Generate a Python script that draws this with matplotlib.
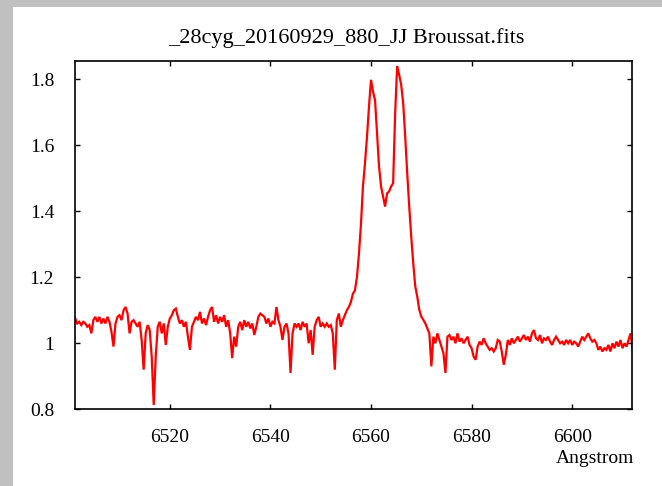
import numpy as np
import matplotlib
matplotlib.use("Agg")
import matplotlib.pyplot as plt
from matplotlib.patches import Rectangle

title = "_28cyg_20160929_880_JJ Broussat.fits"
xlabel = "Angstrom"

# wavelength grid (Angstrom), sampled every 0.4 A
wl_start, wl_step = 6501.2, 0.4

flux_6501_6511 = [1.075, 1.06, 1.065, 1.055, 1.065, 1.06, 1.05, 1.055, 1.03, 1.07,
                  1.08, 1.065, 1.08, 1.06, 1.075, 1.06, 1.08, 1.065, 1.035, 0.99,
                  1.06, 1.08, 1.085, 1.07, 1.10]
flux_6511_6521 = [1.11, 1.09, 1.03, 1.065, 1.07, 1.06, 1.05, 1.065, 1.01, 0.92,
                  1.03, 1.055, 1.04, 0.96, 0.813, 0.96, 1.05, 1.065, 1.03, 1.06,
                  0.995, 1.05, 1.075, 1.085, 1.10]
flux_6521_6531 = [1.105, 1.08, 1.06, 1.07, 1.05, 1.065, 1.02, 0.98, 1.05, 1.065,
                  1.08, 1.07, 1.095, 1.06, 1.075, 1.055, 1.08, 1.10, 1.11, 1.065,
                  1.085, 1.06, 1.08, 1.065, 1.085]
flux_6531_6541 = [1.05, 1.07, 1.03, 0.955, 1.02, 0.99, 1.05, 1.065, 1.04, 1.07,
                  1.05, 1.065, 1.045, 1.06, 1.025, 1.05, 1.08, 1.09, 1.085, 1.08,
                  1.06, 1.075, 1.05, 1.065, 1.06]
flux_6541_6551 = [1.11, 1.07, 1.05, 1.01, 1.05, 1.06, 1.03, 0.91, 1.03, 1.06,
                  1.05, 1.06, 1.04, 1.065, 1.05, 1.06, 1.0, 1.04, 0.965, 1.05,
                  1.07, 1.08, 1.05, 1.06, 1.05]
flux_6551_6561 = [1.06, 1.05, 1.055, 1.03, 0.92, 1.07, 1.09, 1.05, 1.07, 1.085,
                  1.10, 1.11, 1.125, 1.15, 1.16, 1.20, 1.27, 1.36, 1.475, 1.545,
                  1.625, 1.717, 1.798, 1.762, 1.737]
flux_6561_6571 = [1.636, 1.535, 1.475, 1.444, 1.414, 1.454, 1.46, 1.475, 1.485, 1.697,
                  1.84, 1.813, 1.783, 1.727, 1.626, 1.515, 1.414, 1.323, 1.242, 1.172,
                  1.141, 1.101, 1.081, 1.071, 1.06]
flux_6571_6581 = [1.045, 1.03, 0.93, 1.02, 1.0, 1.03, 1.01, 0.99, 0.97, 0.91,
                  1.02, 1.025, 1.01, 1.02, 1.0, 1.03, 1.005, 1.015, 1.0, 1.01,
                  1.02, 0.995, 0.985, 0.96, 0.95]
flux_6581_6591 = [0.99, 1.005, 0.995, 1.015, 1.0, 0.99, 0.98, 0.985, 0.975, 0.985,
                  1.01, 1.005, 0.975, 0.935, 0.965, 1.01, 0.995, 1.015, 1.0, 1.01,
                  1.02, 1.005, 1.015, 1.025, 1.01]
flux_6591_6601 = [1.02, 1.005, 1.03, 1.04, 1.015, 1.01, 1.025, 1.0, 1.015, 1.01,
                  1.02, 1.005, 0.995, 1.01, 1.02, 1.01, 1.0, 1.005, 0.995, 1.01,
                  1.0, 1.01, 0.995, 1.005, 1.0]
flux_6601_6612 = [0.99, 1.005, 1.02, 1.01, 1.02, 1.03, 1.015, 1.005, 1.01, 1.0,
                  0.98, 0.99, 0.975, 0.985, 0.98, 0.995, 0.975, 1.0, 0.985, 1.005,
                  0.99, 1.01, 0.985, 1.0, 0.99, 1.01, 1.03, 0.985]

flux = np.array(flux_6501_6511 + flux_6511_6521 + flux_6521_6531 + flux_6531_6541 +
                flux_6541_6551 + flux_6551_6561 + flux_6561_6571 + flux_6571_6581 +
                flux_6581_6591 + flux_6591_6601 + flux_6601_6612)
wavelength = wl_start + wl_step * np.arange(len(flux))

xticks = [6520, 6540, 6560, 6580, 6600]
yticks = [0.8, 1.0, 1.2, 1.4, 1.6, 1.8]
ytick_labels = ["0.8", "1", "1.2", "1.4", "1.6", "1.8"]

plt.rcParams["font.family"] = ["Liberation Serif", "DejaVu Serif"]

W, H = 662, 486
fig = plt.figure(figsize=(W / 100, H / 100), dpi=100)
fig.patch.set_facecolor("white")
# grey frame on left and top
fig.patches.append(Rectangle((0, 0), 13 / W, 1, transform=fig.transFigure,
                             facecolor="#c0c0c0", edgecolor="none", zorder=0))
fig.patches.append(Rectangle((0, 1 - 7 / H), 1, 7 / H, transform=fig.transFigure,
                             facecolor="#c0c0c0", edgecolor="none", zorder=0))

left, right, top, bottom = 75, 632.3, 61, 409.3
ax = fig.add_axes([left / W, 1 - bottom / H, (right - left) / W, (bottom - top) / H])
ax.plot(wavelength, flux, color="#ff0000", lw=1.6, solid_joinstyle="miter")
ax.set_xlim(6501.15, 6611.95)
ax.set_ylim(0.8, 1.855)
ax.set_xticks(xticks)
ax.set_xticklabels([str(t) for t in xticks])
ax.set_yticks(yticks)
ax.set_yticklabels(ytick_labels)
ax.tick_params(direction="in", length=3.5, width=1, top=True, right=True,
               labelsize=14, colors="black")
ax.tick_params(axis="x", pad=14)
ax.tick_params(axis="y", pad=15)
for s in ax.spines.values():
    s.set_linewidth(1.2)
    s.set_color("black")

fig.text(346 / W, 1 - 38 / H, title, ha="center", va="center", fontsize=16)
fig.text(634 / W, 1 - 458 / H, xlabel, ha="right", va="center", fontsize=14)

fig.savefig("out.png", dpi=100)
